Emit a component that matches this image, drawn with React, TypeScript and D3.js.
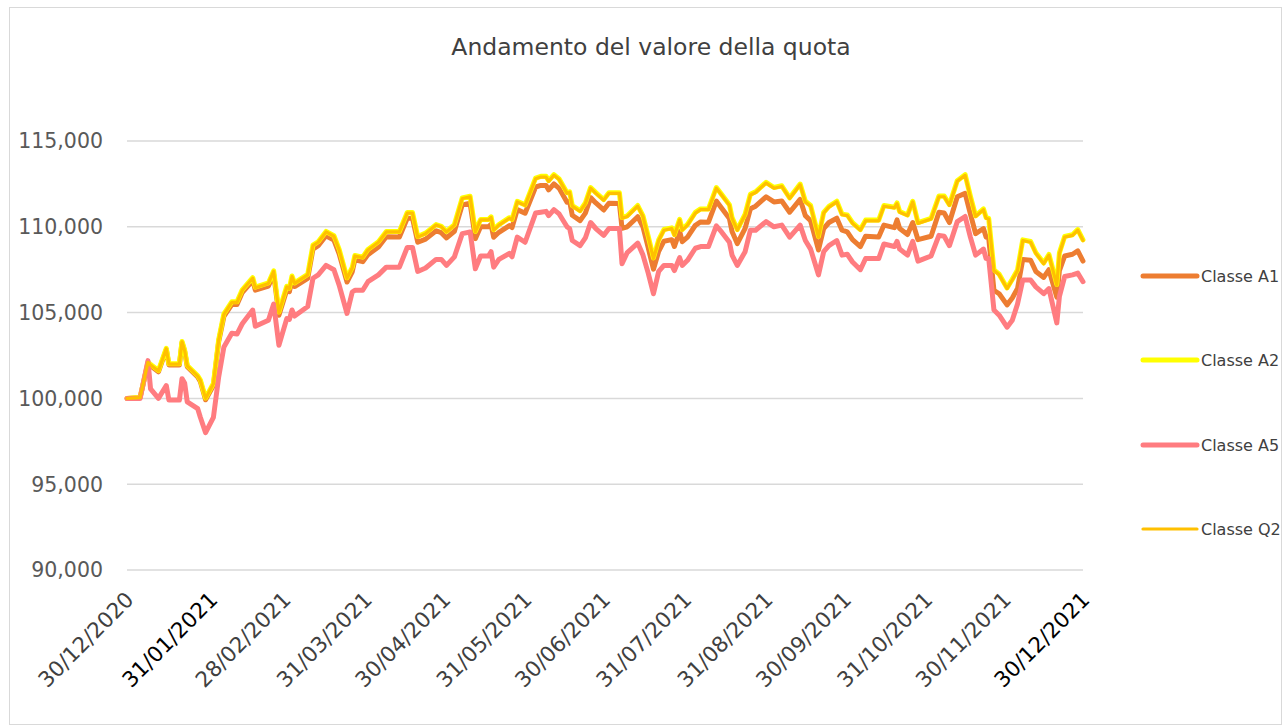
import React from "react";
import * as d3 from "d3";

const dates = [
  "2020-12-30","2021-01-04","2021-01-07","2021-01-08","2021-01-11","2021-01-14","2021-01-15","2021-01-19","2021-01-20","2021-01-21",
  "2021-01-22","2021-01-26","2021-01-27","2021-01-29","2021-02-01","2021-02-03","2021-02-05","2021-02-08","2021-02-10","2021-02-12",
  "2021-02-16","2021-02-17","2021-02-22","2021-02-24","2021-02-26","2021-03-01","2021-03-02","2021-03-03","2021-03-04","2021-03-09",
  "2021-03-11","2021-03-13","2021-03-16","2021-03-19","2021-03-21","2021-03-24","2021-03-26","2021-03-27","2021-03-30","2021-04-01",
  "2021-04-05","2021-04-08","2021-04-13","2021-04-16","2021-04-18","2021-04-20","2021-04-23","2021-04-27","2021-04-29","2021-05-01",
  "2021-05-04","2021-05-07","2021-05-10","2021-05-12","2021-05-14","2021-05-17","2021-05-18","2021-05-19","2021-05-21","2021-05-25",
  "2021-05-26","2021-05-28","2021-05-31","2021-06-04","2021-06-06","2021-06-08","2021-06-09","2021-06-11","2021-06-13","2021-06-16",
  "2021-06-17","2021-06-18","2021-06-21","2021-06-23","2021-06-25","2021-06-27","2021-06-30","2021-07-02","2021-07-06","2021-07-07",
  "2021-07-09","2021-07-13","2021-07-15","2021-07-17","2021-07-19","2021-07-21","2021-07-23","2021-07-26","2021-07-27","2021-07-29",
  "2021-07-30","2021-08-01","2021-08-04","2021-08-06","2021-08-09","2021-08-12","2021-08-14","2021-08-17","2021-08-18","2021-08-20",
  "2021-08-23","2021-08-25","2021-08-27","2021-08-31","2021-09-03","2021-09-06","2021-09-09","2021-09-13","2021-09-15","2021-09-17",
  "2021-09-20","2021-09-22","2021-09-24","2021-09-27","2021-09-29","2021-10-01","2021-10-03","2021-10-06","2021-10-08","2021-10-13",
  "2021-10-15","2021-10-19","2021-10-20","2021-10-21","2021-10-24","2021-10-26","2021-10-28","2021-11-02","2021-11-05","2021-11-07",
  "2021-11-09","2021-11-12","2021-11-15","2021-11-17","2021-11-19","2021-11-22","2021-11-23","2021-11-24","2021-11-26","2021-11-28",
  "2021-12-01","2021-12-03","2021-12-05","2021-12-07","2021-12-10","2021-12-12","2021-12-15","2021-12-17","2021-12-20","2021-12-21",
  "2021-12-23","2021-12-26","2021-12-28","2021-12-30",
];

const classeQ2 = [
  100.00,100.05,102.10,101.95,101.60,102.90,102.00,102.00,103.30,102.80,
  101.90,101.30,101.05,100.00,100.85,103.40,104.90,105.60,105.60,106.30,
  107.00,106.45,106.70,107.40,105.00,106.50,106.40,107.10,106.70,107.20,
  108.90,109.10,109.70,109.45,108.65,107.00,107.60,108.30,108.20,108.65,
  109.10,109.70,109.70,110.80,110.80,109.40,109.60,110.10,110.00,109.70,
  110.10,111.65,111.75,109.70,110.40,110.40,110.55,109.80,110.10,110.50,
  110.40,111.45,111.25,112.80,112.90,112.90,112.65,113.00,112.75,111.95,
  112.00,111.20,110.90,111.35,112.25,111.95,111.55,111.95,111.95,110.50,
  110.60,111.20,110.60,109.40,108.15,109.20,109.80,109.90,109.50,110.40,
  109.80,110.10,110.80,111.00,111.00,112.25,111.85,111.25,110.50,109.80,
  110.70,111.85,112.00,112.55,112.25,112.35,111.65,112.45,111.45,111.20,
  109.40,110.80,111.15,111.45,110.70,110.65,110.20,109.80,110.35,110.35,
  111.20,111.10,111.35,110.85,110.65,111.45,110.20,110.45,111.75,111.75,
  111.25,112.65,113.00,111.75,110.60,111.00,110.50,110.45,107.45,107.20,
  106.40,106.90,107.45,109.20,109.10,108.45,107.85,108.35,106.60,108.45,
  109.40,109.50,109.80,109.20,
];

const classeA2 = [
  100.00,100.05,102.12,101.97,101.62,102.92,102.02,102.02,103.32,102.82,
  101.92,101.32,101.07,100.02,100.87,103.42,104.93,105.63,105.63,106.33,
  107.03,106.48,106.73,107.43,105.03,106.53,106.43,107.13,106.73,107.23,
  108.93,109.13,109.73,109.48,108.68,107.03,107.63,108.33,108.23,108.68,
  109.13,109.73,109.73,110.83,110.83,109.43,109.63,110.13,110.03,109.73,
  110.13,111.68,111.78,109.73,110.43,110.43,110.58,109.83,110.13,110.53,
  110.43,111.48,111.28,112.84,112.94,112.94,112.69,113.04,112.79,111.99,
  112.04,111.24,110.94,111.39,112.29,111.99,111.59,111.99,111.99,110.54,
  110.64,111.24,110.64,109.44,108.19,109.24,109.84,109.94,109.54,110.44,
  109.84,110.14,110.84,111.04,111.04,112.29,111.89,111.29,110.54,109.84,
  110.74,111.89,112.04,112.59,112.29,112.39,111.69,112.49,111.49,111.24,
  109.44,110.84,111.19,111.49,110.74,110.69,110.24,109.84,110.39,110.39,
  111.24,111.14,111.39,110.89,110.69,111.49,110.24,110.49,111.79,111.79,
  111.29,112.69,113.04,111.79,110.64,111.04,110.54,110.49,107.49,107.24,
  106.44,106.94,107.49,109.24,109.14,108.49,107.89,108.39,106.64,108.49,
  109.44,109.54,109.84,109.24,
];

const classeA1 = [
  100.00,100.05,102.05,101.90,101.55,102.85,101.95,101.95,103.25,102.75,
  101.85,101.25,100.98,99.92,100.75,103.30,104.78,105.47,105.47,106.17,
  106.86,106.31,106.55,107.25,104.85,106.32,106.22,106.92,106.52,107.00,
  108.70,108.90,109.48,109.23,108.43,106.78,107.38,108.08,107.97,108.38,
  108.82,109.42,109.41,110.50,110.50,109.10,109.28,109.77,109.66,109.35,
  109.74,111.28,111.37,109.31,110.00,110.00,110.14,109.39,109.68,110.07,
  109.96,111.00,110.79,112.32,112.41,112.41,112.15,112.50,112.24,111.43,
  111.48,110.67,110.36,110.80,111.70,111.39,110.98,111.37,111.36,109.91,
  110.00,110.59,109.99,108.78,107.53,108.57,109.16,109.25,108.85,109.73,
  109.13,109.40,110.09,110.28,110.27,111.50,111.09,110.48,109.72,109.02,
  109.91,111.05,111.20,111.75,111.45,111.50,110.85,111.60,110.65,110.35,
  108.65,109.90,110.25,110.50,109.80,109.70,109.25,108.85,109.45,109.40,
  110.10,109.95,110.40,109.90,109.55,110.25,109.25,109.45,110.85,110.80,
  110.25,111.75,111.95,110.75,109.60,109.90,109.40,109.35,106.30,106.10,
  105.45,105.85,106.40,108.10,108.05,107.40,107.05,107.50,105.90,107.45,
  108.30,108.40,108.60,108.00,
];

const classeA5 = [
  100.00,100.00,102.20,100.55,100.00,100.75,99.90,99.90,101.15,100.90,
  99.80,99.40,98.90,98.00,98.90,101.25,103.00,103.80,103.75,104.35,
  105.15,104.20,104.55,105.50,103.10,104.65,104.60,105.15,104.80,105.35,
  107.00,107.20,107.75,107.50,106.60,104.95,106.20,106.30,106.30,106.80,
  107.20,107.65,107.65,108.80,108.80,107.40,107.60,108.10,108.10,107.75,
  108.25,109.60,109.70,107.55,108.30,108.30,108.55,107.65,108.10,108.45,
  108.25,109.40,109.10,110.80,110.85,110.90,110.65,111.00,110.75,110.00,
  109.90,109.20,108.90,109.35,110.25,109.90,109.50,109.90,109.90,107.85,
  108.50,109.05,108.35,107.30,106.10,107.40,107.75,107.75,107.45,108.20,
  107.75,108.05,108.75,108.85,108.85,110.05,109.70,109.10,108.35,107.75,
  108.55,109.80,109.80,110.30,110.00,110.10,109.40,110.10,109.20,108.70,
  107.20,108.55,108.90,109.20,108.35,108.40,107.95,107.50,108.15,108.15,
  109.00,108.85,109.15,108.70,108.35,109.15,108.00,108.30,109.50,109.45,
  108.90,110.30,110.60,109.40,108.35,108.70,108.15,108.15,105.15,104.85,
  104.15,104.55,105.50,106.90,106.90,106.50,106.10,106.40,104.40,105.95,
  107.10,107.20,107.30,106.80,
];

const seriesNames = ["Classe A1", "Classe A2", "Classe A5", "Classe Q2"];
const seriesValues = [classeA1, classeA2, classeA5, classeQ2];
const seriesColors = ["#ED7D31", "#FFFF00", "#FF7C80", "#FFC000"];
const seriesWidths = [5, 5, 5, 3.2];

const yTicks = [90, 95, 100, 105, 110, 115];
const xTickLabels = [
  "30/12/2020","31/01/2021","28/02/2021","31/03/2021","30/04/2021","31/05/2021","30/06/2021",
  "31/07/2021","31/08/2021","30/09/2021","31/10/2021","30/11/2021","30/12/2021",
];
const darkLabels = ["31/01/2021", "30/12/2021"];

const title = "Andamento del valore della quota";

const W = 1284, H = 726;
const plot = { left: 127, right: 1083, top: 141, bottom: 570 };
const FONT = "'DejaVu Sans', Verdana, sans-serif";

export default function App() {
  const parseDate = d3.utcParse("%Y-%m-%d");
  const parseLabel = d3.utcParse("%d/%m/%Y");
  const x = d3.scaleUtc()
    .domain([parseDate("2020-12-30") as Date, parseDate("2021-12-30") as Date])
    .range([plot.left, plot.right]);
  const y = d3.scaleLinear().domain([90, 115]).range([plot.bottom, plot.top]);
  const fmt = (v: number) => v.toFixed(3).replace(".", ",");
  const parsed = dates.map((d) => parseDate(d) as Date);

  const line = d3.line<number>()
    .x((_, i) => x(parsed[i]))
    .y((v) => y(v))
    .curve(d3.curveLinear);

  const legendY = [276, 360, 445, 529];

  return (
    <svg width={W} height={H} style={{ position: "absolute", left: 0, top: 0, background: "#fff" }}
      fontFamily={FONT}>
      <rect x={9.5} y={7.5} width={1272} height={717} fill="#fff" stroke="#d9d9d9" strokeWidth={1} />
      <text x={651} y={55} textAnchor="middle" fontSize={23.5} fill="#404040">{title}</text>

      {yTicks.map((t) => (
        <g key={t}>
          <line x1={plot.left} x2={plot.right} y1={y(t)} y2={y(t)} stroke="#d9d9d9" strokeWidth={1.5} />
          <text x={103} y={y(t)} dy="0.36em" textAnchor="end" fontSize={20.5} fill="#595959">{fmt(t)}</text>
        </g>
      ))}

      {seriesValues.map((vals, si) => (
        <path key={seriesNames[si]} d={line(vals) || ""} fill="none" stroke={seriesColors[si]}
          strokeWidth={seriesWidths[si]} strokeLinejoin="round" strokeLinecap="round" />
      ))}

      {xTickLabels.map((lab) => {
        const xx = x(parseLabel(lab) as Date);
        return (
          <text key={lab} transform={`translate(${xx + 8},${601}) rotate(-45)`} textAnchor="end"
            fontSize={21.5} fill={darkLabels.includes(lab) ? "#000" : "#404040"}>{lab}</text>
        );
      })}

      {seriesNames.map((n, i) => (
        <g key={n}>
          <line x1={1143} x2={1197} y1={legendY[i]} y2={legendY[i]} stroke={seriesColors[i]}
            strokeWidth={seriesWidths[i]} strokeLinecap="round" />
          <text x={1201} y={legendY[i]} dy="0.36em" fontSize={16} fill="#404040">{n}</text>
        </g>
      ))}
    </svg>
  );
}
